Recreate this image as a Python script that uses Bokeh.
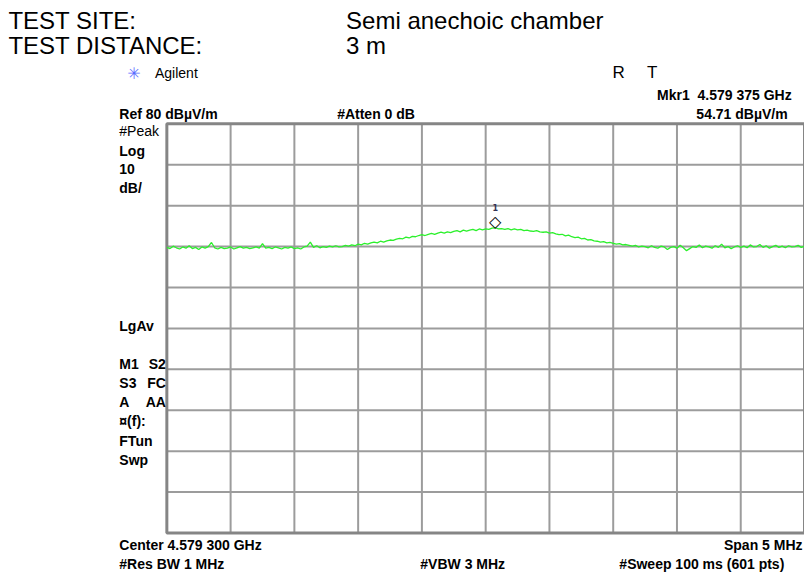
import numpy as np
from bokeh.plotting import figure
from bokeh.models import Label, Range1d
from bokeh.core.properties import value
from bokeh.embed import file_html
from bokeh.resources import INLINE

# ---- instrument settings ----
CENTER_MHZ = 4579.3
SPAN_MHZ = 5.0
REF_LEVEL = 80.0
DB_PER_DIV = 10.0
N_DIV = 10

# ---- trace (dBuV/m) ----
levels = [
    49.8, 49.5, 50.1, 49.7, 49.4, 49.9, 49.6, 50.2, 49.5, 49.8,
    49.3, 49.9, 49.6, 50.0, 51.0, 49.7, 49.4, 49.8, 49.5, 49.6,
    49.9, 49.4, 49.7, 50.0, 49.6, 49.8, 49.5, 49.7, 49.9, 49.6,
    50.7, 49.6, 49.8, 49.5, 49.9, 49.7, 49.4, 49.8, 49.6, 49.9,
    49.5, 49.7, 49.4, 49.9, 50.1, 51.1, 49.8, 50.2, 49.7, 50.0,
    49.8, 50.1, 49.9, 50.2, 49.9, 50.0, 50.3, 50.1, 50.4, 50.2,
    50.6, 50.4, 50.8, 50.6, 50.9, 51.1, 50.9, 51.3, 51.1, 51.4,
    51.6, 51.5, 51.8, 52.0, 51.9, 52.3, 52.1, 52.5, 52.4, 52.7,
    52.9, 52.7, 53.0, 53.2, 53.0, 53.3, 53.5, 53.3, 53.6, 53.4,
    53.7, 53.9, 53.6, 54.0, 53.8, 54.0, 54.2, 53.9, 54.3, 54.1,
    54.3, 54.2, 54.5, 54.6, 54.3, 54.4, 54.2, 54.4, 54.1, 54.3,
    54.1, 54.2, 53.9, 54.0, 53.8, 53.7, 53.9, 53.6, 53.5, 53.6,
    53.3, 53.4, 53.1, 52.9, 53.0, 52.6, 52.8, 52.4, 52.2, 52.3,
    51.9, 52.0, 51.6, 51.7, 51.4, 51.3, 51.1, 51.2, 50.9, 51.0,
    50.8, 50.6, 50.7, 50.4, 50.5, 50.3, 50.1, 50.3, 49.9, 50.1,
    50.0, 49.7, 50.2, 49.8, 49.6, 50.1, 49.9, 49.3, 49.8, 50.0,
    49.6, 50.3, 49.7, 49.0, 49.5, 50.0, 49.8, 50.4, 49.7, 50.1,
    49.9, 49.6, 50.2, 49.8, 50.6, 49.7, 50.0, 49.5, 49.9, 50.2,
    49.8, 50.1, 49.7, 50.4, 49.9, 50.0, 50.5, 49.8, 50.2, 49.6,
    50.0, 50.3, 49.8, 50.1, 49.7, 50.2, 49.9, 50.0, 50.3, 49.8,
    50.1,
]

# ---- marker ----
mkr_freq = [4579.375]
mkr_level = [54.71]

F_START = CENTER_MHZ - SPAN_MHZ / 2
F_STOP = CENTER_MHZ + SPAN_MHZ / 2
BOTTOM = REF_LEVEL - N_DIV * DB_PER_DIV
freqs = np.linspace(F_START, F_STOP, len(levels))

# ---- canvas geometry (reference laid out on 812x580) ----
W, H = 804, 572
SX, SY = W / 812, H / 580
GL, GR, GT, GB = 168 * SX, 812 * SX, 125 * SY, 540 * SY
MHZ_PX = SPAN_MHZ / (GR - GL)
DB_PX = (REF_LEVEL - BOTTOM) / (GB - GT)
XR = (F_START - GL * MHZ_PX, F_STOP + (W - GR) * MHZ_PX)
YR = (BOTTOM - (H - GB) * DB_PX, REF_LEVEL + GT * DB_PX)

p = figure(width=W, height=H, output_backend="svg", toolbar_location=None,
           x_range=Range1d(*XR), y_range=Range1d(*YR),
           x_axis_location=None, y_axis_location=None,
           min_border=0)
p.background_fill_color = "white"
p.border_fill_color = "white"
p.outline_line_color = None
p.grid.visible = False

# graticule
xdiv = [F_START + k * SPAN_MHZ / N_DIV for k in range(1, N_DIV)]
ydiv = [BOTTOM + k * DB_PER_DIV for k in range(1, N_DIV)]
p.segment(x0=xdiv, x1=xdiv, y0=[BOTTOM] * len(xdiv), y1=[REF_LEVEL] * len(xdiv),
          line_color="#9c9c9c", line_width=2)
p.segment(x0=[F_START] * len(ydiv), x1=[F_STOP] * len(ydiv), y0=ydiv, y1=ydiv,
          line_color="#9c9c9c", line_width=2)
p.quad(left=[F_START], right=[F_STOP], bottom=[BOTTOM], top=[REF_LEVEL],
       fill_color=None, line_color="#858585", line_width=3)

# trace
p.line(freqs, levels, line_color="#2bf02b", line_width=1.3)

# marker symbol drawn just above the marker point
p.text(x=mkr_freq, y=mkr_level, text=["\u25C7"], text_align="center",
       text_baseline="middle", y_offset=-6, text_font=value("DejaVu Sans"),
       text_font_size="16px", text_font_style="bold", text_color="black")
p.text(x=mkr_freq, y=mkr_level, text=["1"], text_align="center",
       text_baseline="middle", y_offset=-20, text_font=value("DejaVu Sans"),
       text_font_size="8px", text_font_style="bold", text_color="#333355")

def dx(rx):
    return XR[0] + rx * SX * MHZ_PX
def dy_px(fy):
    return YR[1] - fy * DB_PX

FONT = "Liberation Sans"
def lab(text, rx, ry, size, bold=False, align="left", color="black", font=FONT):
    fy = ry * SY - 0.33 * size   # baseline compensation
    p.add_layout(Label(x=dx(rx), y=dy_px(fy), text=text, text_font=font,
                       text_font_size=f"{size}px",
                       text_font_style="bold" if bold else "normal",
                       text_align=align, text_baseline="alphabetic",
                       text_color=color))

NB = "\u00a0"

# header
lab("TEST SITE:", 8, 28, 24)
lab("TEST DISTANCE:", 8, 54, 24)
lab("Semi anechoic chamber", 349, 28, 24)
lab("3 m", 349, 54, 24)

# analyzer header
lab("\u2733", 128, 79, 16, color="#5a6cff", font="DejaVu Sans")
lab("Agilent", 156, 78, 14)
lab("R", 618, 79, 17)
lab("T", 653, 79, 17)
lab("Mkr1" + NB * 2 + "4.579 375 GHz", 799, 100, 14, bold=True, align="right")
lab("54.71 dB\u00b5V/m", 795, 120, 14, bold=True, align="right")
lab("Ref 80 dB\u00b5V/m", 120, 120, 14, bold=True)
lab("#Atten 0 dB", 340, 120, 14, bold=True)

# left annotation column
lab("#Peak", 120, 137, 14)
side_left = [("Log", 157), ("10", 176), ("dB/", 195), ("LgAv", 335),
             ("M1", 373), ("S3", 393), ("A", 412),
             ("\u00a4(f):", 431), ("FTun", 451), ("Swp", 471)]
for t, yy in side_left:
    lab(t, 120, yy, 14, bold=True)
side_right = [("S2", 373), ("FC", 393), ("AA", 412)]
for t, yy in side_right:
    lab(t, 167, yy, 14, bold=True, align="right")

# footer
lab("Center 4.579 300 GHz", 120, 557, 14, bold=True)
lab("Span 5 MHz", 810, 557, 14, bold=True, align="right")
lab("#Res BW 1 MHz", 120, 576, 14, bold=True)
lab("#VBW 3 MHz", 424, 576, 14, bold=True)
lab("#Sweep 100 ms (601 pts)", 625, 576, 14, bold=True)

open("out.html", "w").write(file_html(p, INLINE))
